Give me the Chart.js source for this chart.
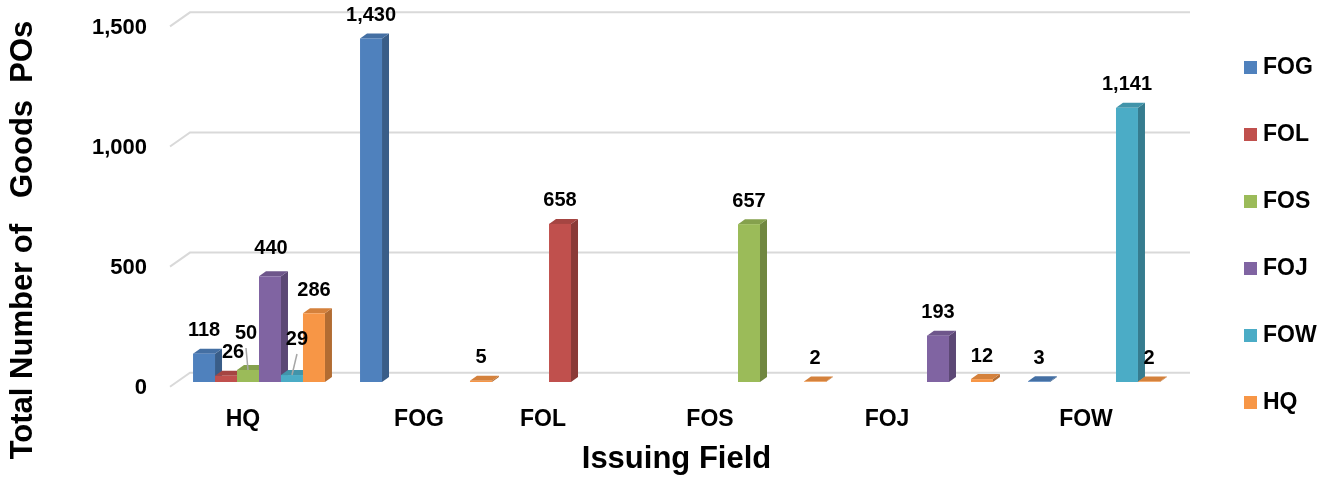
<!DOCTYPE html>
<html>
<head>
<meta charset="utf-8">
<script src="https://cdn.jsdelivr.net/npm/chart.js@4.4.1/dist/chart.umd.min.js"></script>
<style>
  html, body { margin: 0; padding: 0; background: #ffffff; }
  #wrap { width: 1331px; height: 480px; }
</style>
</head>
<body>
<div id="wrap"><canvas id="chart" width="1331" height="480"></canvas></div>
<script>
// Issuing fields on the category axis
const categories = ['HQ', 'FOG', 'FOL', 'FOS', 'FOJ', 'FOW'];
// Series (receiving office) names and colours
const seriesNames = ['FOG', 'FOL', 'FOS', 'FOJ', 'FOW', 'HQ'];
const seriesColors = ['#4F81BD', '#C0504D', '#9BBB59', '#8064A2', '#4BACC6', '#F79646'];
// Goods POs per series, one entry per issuing field (null = none)
const fogValues = [118, 1430, null, null, null, 3];
const folValues = [26, null, 658, null, null, null];
const fosValues = [50, null, null, 657, null, null];
const fojValues = [440, null, null, null, 193, null];
const fowValues = [29, null, null, null, null, 1141];
const hqValues  = [286, 5, null, 2, 12, 2];
const yTicks = [0, 500, 1000, 1500];

const seriesValues = [fogValues, folValues, fosValues, fojValues, fowValues, hqValues];
const FONT = "'Liberation Sans', Arial, sans-serif";
const DX = 7, DY = -5;   // depth offset of the 3-D bar faces

// hand-placed data labels in the HQ group (series-category)
const labelNudges = {
  '1-0': { dx: 7, dy: 0 },
  '2-0': { dx: -2, dy: -14, leader: true },
  '3-0': { dx: 1, dy: -5 },
  '4-0': { dx: 5, dy: -13, leader: true }
};
// hand-placed category labels (horizontal shift from the group centre)
const categoryLabelShift = [-16, -7, -50, -50, -40, -8];

function shade(hex, f) {
  const n = parseInt(hex.slice(1), 16);
  const r = (n >> 16) & 255, g = (n >> 8) & 255, b = n & 255;
  return 'rgb(' + Math.round(r * f) + ',' + Math.round(g * f) + ',' + Math.round(b * f) + ')';
}

const bar3d = {
  id: 'bar3d',
  beforeDatasetsDraw(chart) {
    // gridlines on the back wall with the slanted floor edge
    const { ctx, chartArea: a, scales: { y } } = chart;
    ctx.save();
    ctx.strokeStyle = '#D9D9D9';
    ctx.lineWidth = 2;
    yTicks.forEach(v => {
      const py = y.getPixelForValue(v);
      ctx.beginPath();
      ctx.moveTo(a.left - 5.5, py + 4.7);
      ctx.lineTo(a.left + 14.5, py - 9.3);
      ctx.lineTo(a.right + 12.5, py - 9.3);
      ctx.stroke();
    });
    ctx.restore();
  },
  beforeDatasetDraw() { return false; },
  afterDatasetsDraw(chart) {
    const { ctx } = chart;
    const metas = chart.data.datasets.map((d, i) => chart.getDatasetMeta(i));
    ctx.save();
    // bars, left to right so each front face hides its neighbour's side
    categories.forEach((cat, ci) => {
      metas.forEach((meta, si) => {
        const v = chart.data.datasets[si].data[ci];
        if (v == null) return;
        const { x, y, base, width } = meta.data[ci].getProps(['x', 'y', 'base', 'width'], true);
        const l = x - width / 2, r = x + width / 2;
        const col = seriesColors[si];
        ctx.fillStyle = shade(col, 0.72);
        ctx.beginPath();
        ctx.moveTo(r, base); ctx.lineTo(r + DX, base + DY);
        ctx.lineTo(r + DX, y + DY); ctx.lineTo(r, y);
        ctx.closePath(); ctx.fill();
        ctx.fillStyle = shade(col, 0.86);
        ctx.beginPath();
        ctx.moveTo(l, y); ctx.lineTo(l + DX, y + DY);
        ctx.lineTo(r + DX, y + DY); ctx.lineTo(r, y);
        ctx.closePath(); ctx.fill();
        ctx.fillStyle = col;
        ctx.fillRect(l, y, width, base - y);
      });
    });
    // value labels
    ctx.font = 'bold 20px ' + FONT;
    ctx.textAlign = 'center';
    ctx.textBaseline = 'middle';
    metas.forEach((meta, si) => {
      chart.data.datasets[si].data.forEach((v, ci) => {
        if (v == null) return;
        const { x, y } = meta.data[ci].getProps(['x', 'y'], true);
        const nudge = labelNudges[si + '-' + ci] || { dx: 0, dy: 0 };
        const lx = x + nudge.dx, ly = y - 23 + nudge.dy;
        if (nudge.leader) {
          ctx.strokeStyle = '#A6A6A6';
          ctx.lineWidth = 1.5;
          ctx.beginPath();
          ctx.moveTo(lx, ly + 15);
          ctx.lineTo(x, y);
          ctx.stroke();
        }
        ctx.fillStyle = '#000000';
        ctx.fillText(v.toLocaleString('en-US'), lx, ly);
      });
    });
    ctx.restore();
  },
  afterDraw(chart) {
    const { ctx, chartArea: a, scales: { x } } = chart;
    ctx.save();
    // category labels under each group
    ctx.font = 'bold 23px ' + FONT;
    ctx.fillStyle = '#000000';
    ctx.textAlign = 'center';
    ctx.textBaseline = 'middle';
    categories.forEach((cat, i) => {
      ctx.fillText(cat, x.getPixelForValue(i) + categoryLabelShift[i], a.bottom + 38);
    });
    // legend column on the right
    ctx.textAlign = 'left';
    const mid = chart.height / 2 - 5;
    chart.data.datasets.forEach((ds, i) => {
      const cy = mid + (i - 2.5) * 67;
      const bx = a.right + 66.5;
      ctx.fillStyle = ds.backgroundColor;
      ctx.fillRect(bx, cy - 6.5, 13, 13);
      ctx.fillStyle = '#000000';
      ctx.fillText(ds.label, bx + 19, cy);
    });
    ctx.restore();
  }
};

new Chart(document.getElementById('chart'), {
  type: 'bar',
  data: {
    labels: categories,
    datasets: seriesNames.map((name, i) => ({
      label: name,
      data: seriesValues[i],
      backgroundColor: seriesColors[i],
      borderWidth: 0
    }))
  },
  options: {
    responsive: false,
    animation: false,
    layout: { padding: { left: 0, right: 153.5, top: 0, bottom: 0 } },
    datasets: { bar: { categoryPercentage: 0.79, barPercentage: 1 } },
    plugins: {
      legend: { display: false },
      tooltip: { enabled: false },
      title: {
        display: true,
        position: 'left',
        text: 'Total Number of   Goods  POs',
        color: '#000000',
        font: { family: FONT, size: 31, weight: 'bold' },
        padding: { top: 5, bottom: 0 }
      }
    },
    scales: {
      x: {
        grid: { display: false, drawTicks: false },
        border: { display: false },
        ticks: { display: false },
        title: {
          display: true,
          text: 'Issuing Field',
          color: '#000000',
          font: { family: FONT, size: 31, weight: 'bold' },
          padding: { top: 0, bottom: 2 }
        },
        afterFit(s) { s.height = 98; }
      },
      y: {
        min: 0,
        max: 1590,
        grid: { display: false, drawTicks: false },
        border: { display: false },
        ticks: {
          labelOffset: 6,
          padding: 28.5,
          color: '#000000',
          font: { family: FONT, size: 22, weight: 'bold' },
          callback: v => v.toLocaleString('en-US')
        },
        afterBuildTicks(s) { s.ticks = yTicks.map(v => ({ value: v })); },
        afterFit(s) {
          s.width = 133.3;
          s.paddingTop = 0;
          s.paddingBottom = 0;
        }
      }
    }
  },
  plugins: [bar3d]
});
</script>
</body>
</html>
